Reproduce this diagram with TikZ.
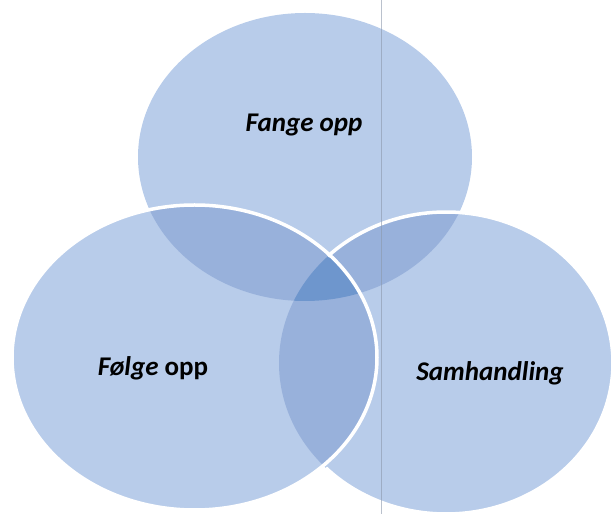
\documentclass[tikz,border=0pt]{standalone}
\usepackage{fontspec}
\setmainfont{Carlito}
\begin{document}
\begin{tikzpicture}[x=1pt,y=1pt,
  basefill/.style={fill=basecol},
  lensfill/.style={fill=lenscol},
  outline/.style={draw=white,line width=3.5pt},
  lbl/.style={anchor=base,inner sep=0pt,font=\fontsize{27}{30}\selectfont\bfseries\itshape,text=black}]
\definecolor{basecol}{HTML}{B8CCEA}
\definecolor{lenscol}{HTML}{98B1DB}
\definecolor{centercol}{HTML}{6E96CD}
\definecolor{foldcol}{HTML}{8C98AC}
\useasboundingbox (0,0) rectangle (614,514);
% ellipses: top, left, right
\def\topE{(305,357) ellipse [x radius=167, y radius=144]}
\def\leftE{(194.5,156.5) ellipse [x radius=182.5, y radius=152.5]}
\def\rightE{(446,151) ellipse [x radius=167, y radius=151]}
\fill[basecol] \topE;
\fill[basecol] \rightE;
\fill[basecol] \leftE;
% pairwise overlaps
\begin{scope}\clip \topE; \fill[lenscol] \leftE; \end{scope}
\begin{scope}\clip \topE; \fill[lenscol] \rightE; \end{scope}
\begin{scope}\clip \leftE; \fill[lenscol] \rightE; \end{scope}
% triple overlap
\begin{scope}\clip \topE; \clip \leftE; \fill[centercol] \rightE; \end{scope}
% outlines
\coordinate (rs) at ([shift={(-136:167 and 151)}]446,151);
\draw[outline] (rs) arc[start angle=-136, end angle=135, x radius=167, y radius=151];
\draw[outline] \leftE;
% fold line of the scan
\coordinate (fa) at (381,514);
\coordinate (fb) at (381,0);
\draw[foldcol,line width=0.8pt,opacity=0.6] (fa) -- (fb);
% labels
\node[lbl] (fange) at (304,382) {Fange opp};
\node[lbl] (folge) at (153,138) {Følge {\upshape opp}};
\node[lbl] (samh) at (490,133) {Samhandling};
\end{tikzpicture}
\end{document}
